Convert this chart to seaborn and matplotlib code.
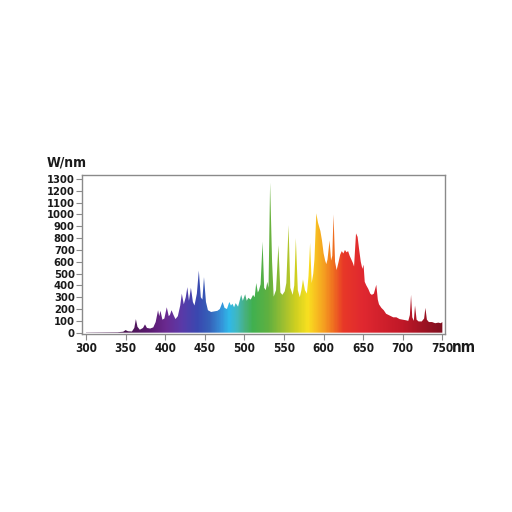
import numpy as np
import pandas as pd
import matplotlib
matplotlib.use("Agg")

import matplotlib.pyplot as plt
import seaborn as sns
from matplotlib.colors import LinearSegmentedColormap


# ==============================
# DATA
# ==============================
wavelength = [
    300, 340, 347, 350, 353, 358, 361, 363, 365, 368, 372, 374.5, 377, 381,
    385, 388, 391, 392.5, 394, 396.5, 399, 402, 404.5, 406, 408, 410.5, 413,
    416, 419, 421, 423.5, 426, 428, 430, 432.5, 435, 437, 440, 442.5, 445,
    447, 449, 451.5, 454, 458, 462, 466, 469, 472.5, 475, 478, 481, 483, 485,
    487, 489, 492, 494, 496, 498, 501, 503, 505, 508, 511, 513, 515, 517,
    518.5, 520.5, 523, 525, 527, 529, 530.5, 532.5, 535, 537, 540, 543,
    545.5, 548, 551, 553, 555.8, 558, 561, 563, 565, 567.5, 570, 572, 574,
    576.5, 579, 581, 583, 585, 587, 588.5, 590.8, 593, 596, 598, 600, 602,
    603.5, 605, 607.6, 609.5, 611, 612.6, 614.5, 616.5, 619, 621, 623, 625,
    627, 629, 631, 633, 635, 637, 638.5, 641, 643, 645, 647, 649, 650.5, 652,
    654, 656.5, 659, 661, 663.5, 666.6, 668.5, 670, 673, 676, 679, 682, 685,
    688, 692, 696, 700, 704, 707, 709, 710.5, 712, 714, 715.5, 717.5, 720,
    724, 727, 728.6, 730.5, 733, 737, 741, 745, 748, 750,
]
power = [
    2, 4, 8, 22, 12, 10, 40, 115, 50, 25, 40, 70, 40, 35,
    45, 90, 190, 140, 185, 110, 120, 215, 140, 150, 190, 150, 115,
    140, 230, 330, 240, 300, 385, 270, 380, 260, 230, 330, 525, 300,
    280, 470, 260, 190, 175, 180, 185, 200, 260, 210, 200, 260, 230, 245,
    215, 250, 220, 270, 320, 270, 325, 270, 295, 280, 320, 300, 420, 340,
    360, 410, 770, 380, 360, 430, 380, 1270, 600, 305, 360, 740,
    340, 320, 350, 420, 910, 380, 320, 400, 800, 360, 300, 360, 450,
    360, 330, 480, 760, 420, 500, 620, 1010, 930, 860, 780, 673, 610,
    580, 620, 780, 610, 650, 1000, 600, 530, 600, 660, 690, 670,
    700, 680, 690, 650, 620, 590, 560, 840, 810, 700, 600, 540, 575, 430,
    400, 370, 330, 320, 330, 405, 280, 240, 210, 190, 160, 150, 140,
    130, 130, 115, 110, 105, 100, 150, 320, 130, 100, 230, 110, 95,
    95, 120, 210, 110, 90, 90, 80, 85, 80, 90,
]

x_ticks = [300, 350, 400, 450, 500, 550, 600, 650, 700, 750]
y_ticks = list(range(0, 1400, 100))

# spectrum colours by wavelength
color_nm = [300, 350, 380, 400, 420, 440, 455, 470, 480, 490, 500, 510,
            530, 550, 565, 580, 590, 600, 612, 625, 650, 700, 750]
color_hex = ["#3a1040", "#4a1450", "#5a1a70", "#6a2a90", "#5a3aa8",
             "#3a48b0", "#3560b8", "#3590d8", "#30b8e8", "#40b8c0",
             "#48b080", "#40b050", "#60b040", "#a0c030", "#d0d020",
             "#f8e020", "#f8c020", "#f5a020", "#f07020", "#e83828",
             "#e02830", "#c01828", "#801020"]

df = pd.DataFrame({"wavelength": wavelength, "power": power})


# ==============================
# STYLE
# ==============================
sns.set_theme(style="white")
plt.rcParams["font.family"] = ["DejaVu Sans"]
plt.rcParams["font.stretch"] = "condensed"
plt.rcParams["font.weight"] = "bold"

fig = plt.figure(figsize=(5.12, 5.12), dpi=100)
ax = fig.add_axes([0.1596, 0.3477, 0.7096, 0.311])

sns.lineplot(data=df, x="wavelength", y="power", ax=ax,
             linewidth=0, legend=False)

# gradient fill clipped by the spectrum area
span = color_nm[-1] - color_nm[0]
nodes = [((n - color_nm[0]) / span, c) for n, c in zip(color_nm, color_hex)]
cmap = LinearSegmentedColormap.from_list("spectrum", nodes)

poly = ax.fill_between(df["wavelength"], 0, df["power"],
                       color="none", linewidth=0)
grad = np.linspace(0, 1, 600).reshape(1, -1)
img = ax.imshow(grad, cmap=cmap, aspect="auto",
                extent=[color_nm[0], color_nm[-1], 0, 1400], zorder=2)
img.set_clip_path(poly.get_paths()[0], transform=ax.transData)

ax.set_xlim(294.6, 753.4)
ax.set_ylim(-11, 1336)
ax.set_xticks(x_ticks)
ax.set_yticks(y_ticks)
ax.set_xlabel("")
ax.set_ylabel("")

for s in ax.spines.values():
    s.set_color("#8a8a8a")
    s.set_linewidth(1.0)

ax.tick_params(axis="both", which="both", direction="out", length=4,
               width=0.8, color="#8a8a8a", labelsize=8, pad=1,
               labelcolor="#1a1a1a", left=True, bottom=True)
for lab in ax.get_xticklabels() + ax.get_yticklabels():
    lab.set_fontweight("bold")
    lab.set_fontstretch("condensed")
ax.tick_params(axis="x", labelsize=8.5, pad=2)

fig.text(0.092, 0.683, "W/nm", fontsize=10, fontweight="bold",
         fontstretch="condensed", color="#1a1a1a", va="center", ha="left")
fig.text(0.882, 0.322, "nm", fontsize=11, fontweight="bold",
         fontstretch="condensed", color="#1a1a1a", va="center", ha="left")

fig.savefig("out.png", dpi=100, facecolor="white")
plt.close(fig)
